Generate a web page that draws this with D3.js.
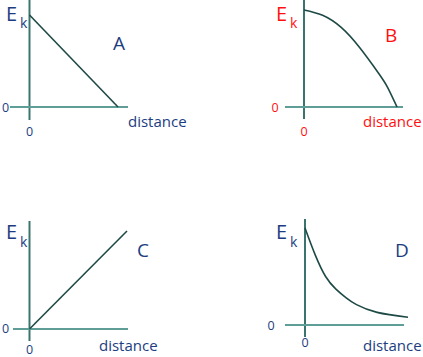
<!DOCTYPE html>
<html>
<head>
<meta charset="utf-8">
<script src="https://cdn.jsdelivr.net/npm/d3@7"></script>
<style>
  html, body { margin: 0; padding: 0; background: #fff; }
  svg { display: block; }
  text { font-family: "Open Sans", "DejaVu Sans", sans-serif; }
</style>
</head>
<body>
<svg id="chart" width="423" height="357"></svg>
<script>
// ---- data (distance, kinetic energy in arbitrary units 0..10) ----
const distA = [0, 10];
const ekA   = [10, 0];

const distB = [0, 2, 4, 6, 8, 9, 10];
const ekB   = [10, 9.45, 8.2, 6.1, 3.5, 2.0, 0];

const distC = [0, 10];
const ekC   = [0, 10];

const distD = [0, 1, 2, 3, 4, 5, 7, 10];
const ekD   = [10, 7.2, 5.0, 3.7, 2.8, 2.1, 1.3, 0.8];

const panelNames = ["A", "B", "C", "D"];
const axisLabelX = "distance";
const axisLabelY = "E";
const axisLabelYSub = "k";
const tickLabel = "0";

// ---- layout ----
const navy = "#1c3d80", red = "#ff1010";
const layout = [
  { dist: distA, ek: ekA, curve: d3.curveLinear, color: navy,
    ox: 29.5, oy: 107, xEnd: 118, yTop: 15, axX: [10, 128], axY: [0, 120],
    E: [6, 21], k: [20, 27.5], name: [113, 50], dist_lbl: [128, 127], z0l: [5.5, 112], z0b: [29.5, 136] },
  { dist: distB, ek: ekB, curve: d3.curveNatural, color: red,
    ox: 304, oy: 107, xEnd: 397, yTop: 10, axX: [285, 403], axY: [0, 119],
    E: [276, 21], k: [290, 27.5], name: [385, 42], dist_lbl: [363, 127], z0l: [275, 112], z0b: [304, 136] },
  { dist: distC, ek: ekC, curve: d3.curveLinear, color: navy,
    ox: 29.5, oy: 329, xEnd: 127, yTop: 231, axX: [13, 128], axY: [221, 341],
    E: [6, 239], k: [20, 247], name: [137, 257], dist_lbl: [99, 351], z0l: [5.5, 333], z0b: [29.5, 353.5] },
  { dist: distD, ek: ekD, curve: d3.curveNatural, color: navy,
    ox: 305, oy: 325, xEnd: 408, yTop: 228, axX: [285, 404], axY: [219, 337],
    E: [276, 239], k: [290, 247], name: [395, 257], dist_lbl: [363, 351], z0l: [271, 330], z0b: [305, 347] }
];

const svg = d3.select("#chart");

layout.forEach((p, i) => {
  const x = d3.scaleLinear().domain([0, 10]).range([p.ox, p.xEnd]);
  const y = d3.scaleLinear().domain([0, 10]).range([p.oy, p.yTop]);
  const g = svg.append("g");

  // vertical axis
  g.append("line")
    .attr("x1", p.ox).attr("x2", p.ox)
    .attr("y1", p.axY[0]).attr("y2", p.axY[1])
    .attr("stroke", "#3b746e").attr("stroke-width", 2);
  // horizontal axis
  g.append("line")
    .attr("x1", p.axX[0]).attr("x2", p.axX[1])
    .attr("y1", p.oy).attr("y2", p.oy)
    .attr("stroke", "#5f9d97").attr("stroke-width", 2.2);

  // data line
  const pts = p.dist.map((d, j) => [d, p.ek[j]]);
  g.append("path")
    .datum(pts)
    .attr("fill", "none")
    .attr("stroke", "#1e4a46")
    .attr("stroke-width", 1.6)
    .attr("d", d3.line().x(d => x(d[0])).y(d => y(d[1])).curve(p.curve));

  // labels
  g.append("text").attr("x", p.E[0]).attr("y", p.E[1])
    .attr("font-size", 20).attr("fill", p.color).text(axisLabelY);
  g.append("text").attr("x", p.k[0]).attr("y", p.k[1])
    .attr("font-size", 14).attr("fill", p.color).text(axisLabelYSub);
  g.append("text").attr("x", p.name[0]).attr("y", p.name[1])
    .attr("font-size", 19).attr("fill", p.color).text(panelNames[i]);
  g.append("text").attr("x", p.dist_lbl[0]).attr("y", p.dist_lbl[1])
    .attr("font-size", 15).attr("fill", p.color).text(axisLabelX);
  g.append("text").attr("x", p.z0l[0]).attr("y", p.z0l[1])
    .attr("text-anchor", "middle")
    .attr("font-size", 12.5).attr("fill", p.color).text(tickLabel);
  g.append("text").attr("x", p.z0b[0]).attr("y", p.z0b[1])
    .attr("text-anchor", "middle")
    .attr("font-size", 12.5).attr("fill", p.color).text(tickLabel);
});
</script>
</body>
</html>
